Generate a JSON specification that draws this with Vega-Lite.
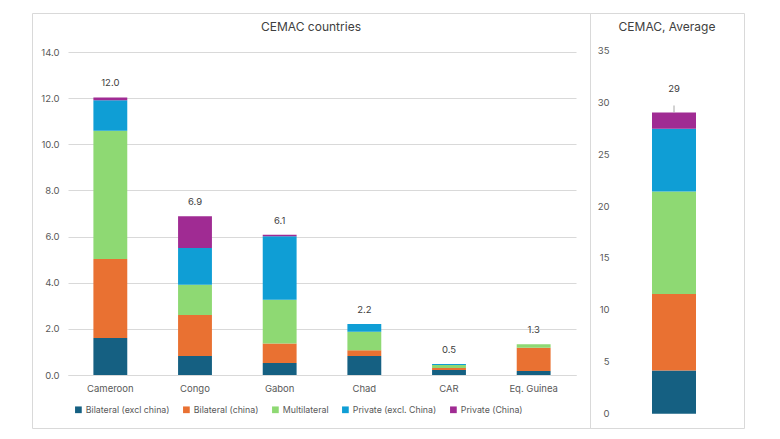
{
  "$schema": "https://vega.github.io/schema/vega-lite/v6.json",
  "padding": {"left": 31, "top": 12, "right": 0, "bottom": 0},
  "autosize": {"type": "pad"},
  "background": "white",
  "spacing": 0,
  "bounds": "flush",
  "config": {
    "font": "Inter",
    "view": {"stroke": "#d9d9d9", "strokeWidth": 1},
    "axis": {"labelColor": "#595959", "labelFontSize": 9.5, "ticks": false, "domain": false, "gridColor": "#d9d9d9", "title": null},
    "title": {"color": "#404040", "fontSize": 12, "fontWeight": "normal", "anchor": "middle", "offset": -21},
    "text": {"font": "Inter"}
  },
  "data": {
    "values": [
      {"country": "Cameroon", "source": "Bilateral (excl china)", "k": 1, "value": 1.6},
      {"country": "Cameroon", "source": "Bilateral (china)", "k": 2, "value": 3.43},
      {"country": "Cameroon", "source": "Multilateral", "k": 3, "value": 5.56},
      {"country": "Cameroon", "source": "Private (excl. China)", "k": 4, "value": 1.32},
      {"country": "Cameroon", "source": "Private (China)", "k": 5, "value": 0.12},
      {"country": "Congo", "source": "Bilateral (excl china)", "k": 1, "value": 0.82},
      {"country": "Congo", "source": "Bilateral (china)", "k": 2, "value": 1.78},
      {"country": "Congo", "source": "Multilateral", "k": 3, "value": 1.31},
      {"country": "Congo", "source": "Private (excl. China)", "k": 4, "value": 1.59},
      {"country": "Congo", "source": "Private (China)", "k": 5, "value": 1.38},
      {"country": "Gabon", "source": "Bilateral (excl china)", "k": 1, "value": 0.52},
      {"country": "Gabon", "source": "Bilateral (china)", "k": 2, "value": 0.84},
      {"country": "Gabon", "source": "Multilateral", "k": 3, "value": 1.9},
      {"country": "Gabon", "source": "Private (excl. China)", "k": 4, "value": 2.75},
      {"country": "Gabon", "source": "Private (China)", "k": 5, "value": 0.07},
      {"country": "Chad", "source": "Bilateral (excl china)", "k": 1, "value": 0.82},
      {"country": "Chad", "source": "Bilateral (china)", "k": 2, "value": 0.25},
      {"country": "Chad", "source": "Multilateral", "k": 3, "value": 0.81},
      {"country": "Chad", "source": "Private (excl. China)", "k": 4, "value": 0.33},
      {"country": "Chad", "source": "Private (China)", "k": 5, "value": 0},
      {"country": "CAR", "source": "Bilateral (excl china)", "k": 1, "value": 0.22},
      {"country": "CAR", "source": "Bilateral (china)", "k": 2, "value": 0.08},
      {"country": "CAR", "source": "Multilateral", "k": 3, "value": 0.13},
      {"country": "CAR", "source": "Private (excl. China)", "k": 4, "value": 0.05},
      {"country": "CAR", "source": "Private (China)", "k": 5, "value": 0},
      {"country": "Eq. Guinea", "source": "Bilateral (excl china)", "k": 1, "value": 0.17},
      {"country": "Eq. Guinea", "source": "Bilateral (china)", "k": 2, "value": 1.01},
      {"country": "Eq. Guinea", "source": "Multilateral", "k": 3, "value": 0.15},
      {"country": "Eq. Guinea", "source": "Private (excl. China)", "k": 4, "value": 0},
      {"country": "Eq. Guinea", "source": "Private (China)", "k": 5, "value": 0}
    ]
  },
  "resolve": {"scale": {"x": "independent", "y": "independent"}, "legend": {"color": "independent"}},
  "hconcat": [
    {
      "width": 558,
      "height": 415,
      "title": "CEMAC countries",
      "layer": [
        {
          "mark": {"type": "bar"},
          "encoding": {
            "x": {"field": "country", "type": "nominal", "sort": ["Cameroon", "Congo", "Gabon", "Chad", "CAR", "Eq. Guinea"],
              "scale": {"range": [36, 544], "paddingInner": 0.6, "paddingOuter": 0.3},
              "axis": {"labelAngle": 0, "offset": -53, "domain": true, "domainColor": "#d9d9d9", "labelPadding": 8, "grid": false}},
            "y": {"field": "value", "type": "quantitative", "stack": "zero",
              "scale": {"domain": [0, 14], "range": [362, 39], "nice": false},
              "axis": {"values": [0, 2, 4, 6, 8, 10, 12, 14], "format": ".1f", "offset": -36, "labelPadding": 9, "grid": true}},
            "color": {"field": "source", "type": "nominal",
              "scale": {"domain": ["Bilateral (excl china)", "Bilateral (china)", "Multilateral", "Private (excl. China)", "Private (China)"],
                "range": ["#156082", "#E97132", "#8ED973", "#0F9ED5", "#A02B93"]},
              "legend": {"title": null, "orient": "none", "legendX": 42, "legendY": 392, "direction": "horizontal", "columns": 5,
                "symbolType": "square", "symbolSize": 45, "symbolStrokeWidth": 0, "labelFontSize": 8.8, "labelColor": "#595959",
                "columnPadding": 12, "labelOffset": 3}},
            "order": {"field": "k", "type": "quantitative"}
          }
        },
        {
          "transform": [{"aggregate": [{"op": "sum", "field": "value", "as": "total"}], "groupby": ["country"]}],
          "mark": {"type": "text", "dy": -14, "fontSize": 9.5, "color": "#404040", "baseline": "middle"},
          "encoding": {
            "x": {"field": "country", "type": "nominal", "sort": ["Cameroon", "Congo", "Gabon", "Chad", "CAR", "Eq. Guinea"]},
            "y": {"field": "total", "type": "quantitative"},
            "text": {"field": "total", "type": "quantitative", "format": ".1f"}
          }
        }
      ]
    },
    {
      "width": 154,
      "height": 415,
      "title": "CEMAC, Average",
      "transform": [{"aggregate": [{"op": "sum", "field": "value", "as": "value"}], "groupby": ["source", "k"]}],
      "layer": [
        {
          "mark": {"type": "bar"},
          "encoding": {
            "x": {"datum": "CEMAC", "type": "nominal", "scale": {"range": [40, 128], "paddingInner": 0.5, "paddingOuter": 0.25}, "axis": null},
            "y": {"field": "value", "type": "quantitative", "stack": "zero",
              "scale": {"domain": [0, 35], "range": [400.7, 37.3], "nice": false},
              "axis": {"values": [0, 5, 10, 15, 20, 25, 30, 35], "format": "d", "offset": -27, "labelPadding": 8, "grid": false}},
            "color": {"field": "source", "type": "nominal", "legend": null},
            "order": {"field": "k", "type": "quantitative"}
          }
        },
        {
          "transform": [{"aggregate": [{"op": "sum", "field": "value", "as": "total"}]}],
          "mark": {"type": "rule", "y2Offset": -7, "color": "#a6a6a6"},
          "encoding": {
            "x": {"datum": "CEMAC", "type": "nominal"},
            "y": {"field": "total", "type": "quantitative"},
            "y2": {"field": "total"}
          }
        },
        {
          "transform": [{"aggregate": [{"op": "sum", "field": "value", "as": "total"}]}],
          "mark": {"type": "text", "dy": -23, "fontSize": 9.5, "color": "#404040", "baseline": "middle"},
          "encoding": {
            "x": {"datum": "CEMAC", "type": "nominal"},
            "y": {"field": "total", "type": "quantitative"},
            "text": {"field": "total", "type": "quantitative", "format": ".0f"}
          }
        }
      ]
    }
  ]
}
